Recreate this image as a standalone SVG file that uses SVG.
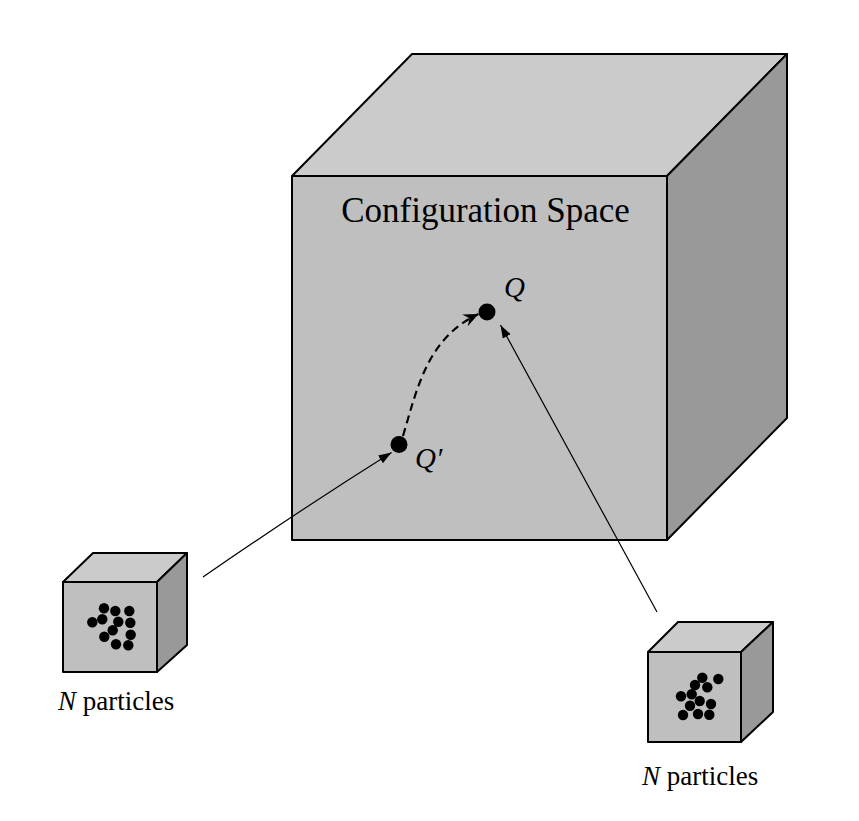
<svg xmlns="http://www.w3.org/2000/svg" width="859" height="821" viewBox="0 0 859 821">
<style>
.front{fill:#bfbfbf;stroke:#000;stroke-width:2;stroke-linejoin:round}
.top{fill:#cbcbcb;stroke:#000;stroke-width:2;stroke-linejoin:round}
.side{fill:#999999;stroke:#000;stroke-width:2;stroke-linejoin:round}
.dot{fill:#000}
.lbl{font-family:"Liberation Serif","Times New Roman",serif;fill:#000}
.it{font-style:italic}
.conn{fill:none;stroke:#000;stroke-width:1.2}
.dash{fill:none;stroke:#000;stroke-width:2.2;stroke-dasharray:8 5}
</style>
<defs>
<marker id="tri" markerUnits="userSpaceOnUse" markerWidth="14" markerHeight="10" viewBox="-13 -5 14 10" refX="0" refY="0" orient="auto">
<path d="M0,0 L-13,-4.5 L-13,4.5 z" fill="#000"/>
</marker>
<marker id="barb" markerUnits="userSpaceOnUse" markerWidth="16" markerHeight="14" viewBox="-15 -7 16 14" refX="0" refY="0" orient="auto">
<path d="M0,0 L-15,-6.5 L-10,0 L-15,6.5 z" fill="#000"/>
</marker>
</defs>
<rect width="859" height="821" fill="#fff"/>
<g id="config-space">
<polygon class="top" points="292,176 412,54 787,54 667,176"/>
<polygon class="side" points="667,176 787,54 787,418 667,540"/>
<rect class="front" x="292" y="176" width="375" height="364"/>
<text class="lbl" x="485.5" y="222" font-size="35" text-anchor="middle">Configuration Space</text>
</g>
<g id="Q">
<circle class="dot" cx="487" cy="312" r="8.5"/>
<text class="lbl it" x="504" y="297" font-size="29">Q</text>
</g>
<g id="Qprime">
<circle class="dot" cx="399" cy="444.5" r="8.5"/>
<text class="lbl it" x="415" y="468" font-size="29">Q′</text>
</g>
<g id="particles-left">
<polygon class="top" points="63,582 93,553 187,553 157,582"/>
<polygon class="side" points="157,582 187,553 187,645 157,672"/>
<rect class="front" x="63" y="582" width="94" height="90"/>
<g class="dot">
<circle cx="104" cy="608.3" r="5.2"/><circle cx="115.3" cy="611" r="5.2"/><circle cx="129.3" cy="611" r="5.2"/>
<circle cx="92.3" cy="622.3" r="5.2"/><circle cx="102.3" cy="619.3" r="5.2"/><circle cx="118.3" cy="621.7" r="5.2"/>
<circle cx="130.3" cy="622.7" r="5.2"/><circle cx="112.7" cy="630.3" r="5.2"/><circle cx="130.7" cy="634.7" r="5.2"/>
<circle cx="104.3" cy="636.7" r="5.2"/><circle cx="116" cy="644.3" r="5.2"/><circle cx="128.3" cy="645.3" r="5.2"/>
</g>
<text class="lbl" x="58" y="710" font-size="27"><tspan class="it">N</tspan> particles</text>
</g>
<g id="particles-right">
<polygon class="top" points="648,652 678,622 773,622 741,652"/>
<polygon class="side" points="741,652 773,622 773,712 741,742"/>
<rect class="front" x="648" y="652" width="93" height="90"/>
<g class="dot">
<circle cx="702.3" cy="677.7" r="5.2"/><circle cx="718.3" cy="679" r="5.2"/><circle cx="695" cy="685" r="5.2"/>
<circle cx="707.3" cy="687.3" r="5.2"/><circle cx="681" cy="696.3" r="5.2"/><circle cx="691.7" cy="694.3" r="5.2"/>
<circle cx="699.7" cy="701" r="5.2"/><circle cx="711" cy="704" r="5.2"/><circle cx="690" cy="705.7" r="5.2"/>
<circle cx="683" cy="715" r="5.2"/><circle cx="698" cy="714" r="5.2"/><circle cx="709.3" cy="714.7" r="5.2"/>
</g>
<text class="lbl" x="642" y="785" font-size="27"><tspan class="it">N</tspan> particles</text>
</g>
<g id="connectors">
<path class="conn" d="M203,577 Q300,510 391.5,452.5" marker-end="url(#tri)"/>
<path class="conn" d="M657,612 L500.5,325" marker-end="url(#tri)"/>
<path class="dash" d="M403,436 C418,385 428,338 478.5,314" marker-end="url(#barb)"/>
</g>
</svg>
